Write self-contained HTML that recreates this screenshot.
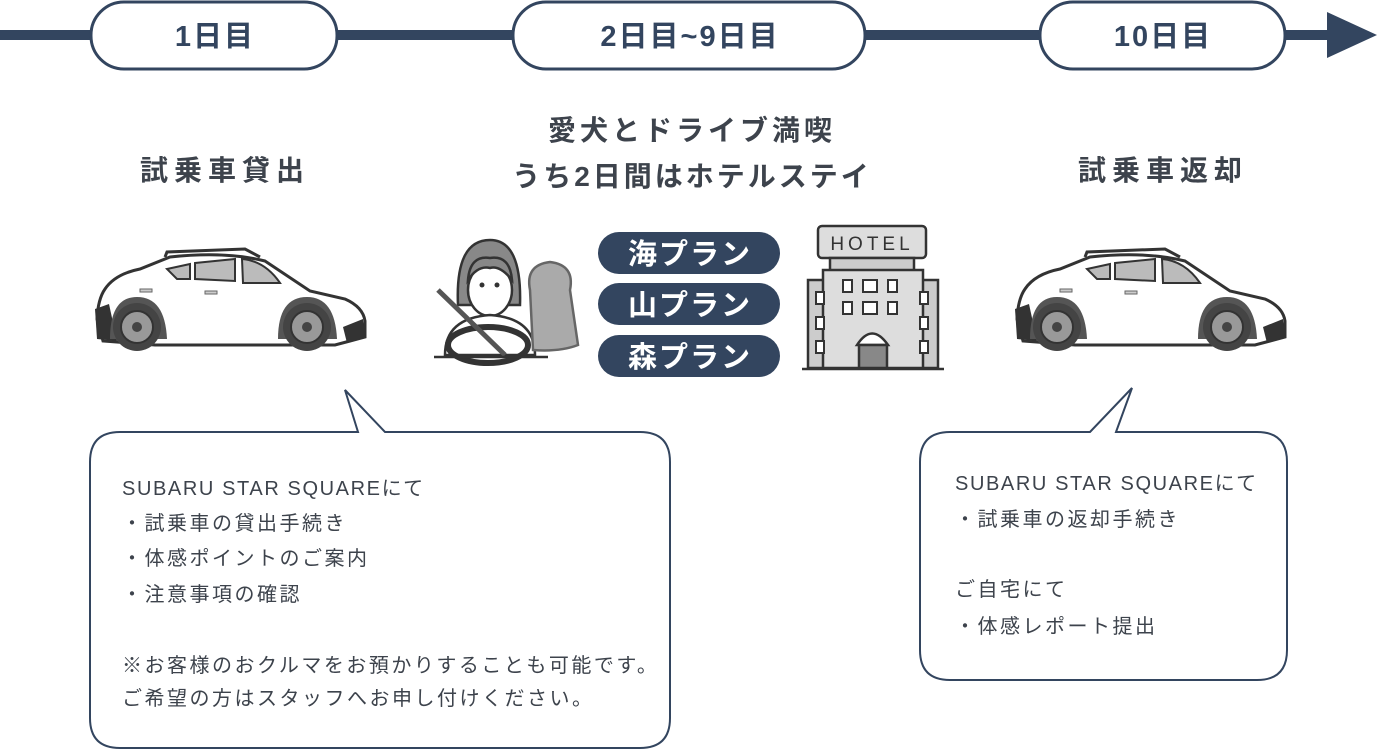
<!DOCTYPE html>
<html><head><meta charset="utf-8"><style>
html,body{margin:0;padding:0;background:#fff;}
svg{display:block;}
text{font-family:"Liberation Sans","Noto Sans CJK JP",sans-serif;}
</style></head><body>
<svg width="1377" height="749" viewBox="0 0 1377 749" xmlns="http://www.w3.org/2000/svg">
<defs>
<g id="car">
 <path d="M10,40 Q20,25 45,20 L75,8 Q130,2 170,12 L215,42 L250,50 Q268,58 270,72 L270,88 L255,92 L240,96 L60,96 L8,92 L2,70 Q3,50 10,40 Z" fill="#fff" stroke="#333" stroke-width="3"/>
 <path d="M70,8 L72,3 L150,0 L165,8" fill="none" stroke="#333" stroke-width="3"/>
 <path d="M72,20 L95,15 L95,30 L82,30 Z" fill="#bbb" stroke="#333" stroke-width="2"/>
 <path d="M100,14 L140,10 L140,32 L100,30 Z" fill="#bbb" stroke="#333" stroke-width="2"/>
 <path d="M147,10 Q170,12 185,34 L148,34 Z" fill="#bbb" stroke="#333" stroke-width="2"/>
 <path d="M0,60 L14,55 L22,92 L2,90 Z" fill="#333"/>
 <path d="M248,78 L268,70 L270,88 L252,94 Z" fill="#333"/>
 <path d="M15,90 Q15,48 42,48 Q70,48 72,90 Z" fill="#555"/>
 <path d="M183,90 Q183,48 212,48 Q240,48 242,90 Z" fill="#555"/>
 <circle cx="42" cy="78" r="24" fill="#444"/><circle cx="42" cy="78" r="16" fill="#999" stroke="#333" stroke-width="2"/><circle cx="42" cy="78" r="5" fill="#444"/>
 <circle cx="212" cy="78" r="24" fill="#444"/><circle cx="212" cy="78" r="16" fill="#999" stroke="#333" stroke-width="2"/><circle cx="212" cy="78" r="5" fill="#444"/>
 <rect x="45" y="40" width="12" height="3" fill="#ccc" stroke="#666"/>
 <rect x="110" y="42" width="12" height="3" fill="#ccc" stroke="#666"/>
</g>
</defs>
<rect x="0" y="30" width="1335" height="10" fill="#33455f"/>
<polygon points="1327,12 1377,35 1327,58" fill="#33455f"/>
<g fill="#fff" stroke="#33455f" stroke-width="3">
<rect x="91" y="2" width="246" height="67" rx="33"/>
<rect x="513" y="2" width="352" height="67" rx="33"/>
<rect x="1040" y="2" width="245" height="67" rx="33"/>
</g>
<g fill="#33455f" font-size="29" font-weight="bold" text-anchor="middle" letter-spacing="2">
<text x="215" y="46">1日目</text>
<text x="690" y="46">2日目~9日目</text>
<text x="1163" y="46">10日目</text>
</g>
<g fill="#3d434c" font-size="28" font-weight="bold" text-anchor="middle">
<text x="225" y="180" letter-spacing="6">試乗車貸出</text>
<text x="692" y="140" letter-spacing="4">愛犬とドライブ満喫</text>
<text x="692" y="186" letter-spacing="3">うち2日間はホテルステイ</text>
<text x="1163" y="180" letter-spacing="6">試乗車返却</text>
</g>
<use href="#car" x="95" y="249"/>
<use href="#car" x="1015" y="249"/>
<g stroke="#333" stroke-width="2.5">
<path d="M458,305 Q455,240 490,240 Q522,240 520,305 Z" fill="#888"/>
<ellipse cx="490" cy="290" rx="22" ry="26" fill="#fff"/>
<path d="M468,280 Q470,255 490,258 Q510,255 512,280 Q500,265 490,268 Q478,265 468,280Z" fill="#888"/>
<path d="M445,355 Q445,318 490,315 Q535,318 535,355 Z" fill="#fff"/>
<ellipse cx="488" cy="345" rx="40" ry="18" fill="none" stroke-width="6"/>
<line x1="438" y1="290" x2="505" y2="355" stroke="#555" stroke-width="5"/>
<line x1="434" y1="357" x2="548" y2="357"/>
<path d="M533,350 L530,290 Q525,265 550,262 Q575,265 570,290 L578,345 Q560,352 533,350Z" fill="#aaa" stroke="#666"/>
</g>
<circle cx="482" cy="285" r="2.5" fill="#333"/><circle cx="497" cy="285" r="2.5" fill="#333"/>
<g fill="#33455f">
<rect x="598" y="232" width="182" height="42" rx="21"/>
<rect x="598" y="283" width="182" height="42" rx="21"/>
<rect x="598" y="335" width="182" height="42" rx="21"/>
</g>
<g fill="#fff" font-size="29" font-weight="bold" text-anchor="middle" letter-spacing="2">
<text x="690" y="264">海プラン</text>
<text x="690" y="315">山プラン</text>
<text x="690" y="367">森プラン</text>
</g>
<g stroke="#333" stroke-width="2.5" fill="#ccc">
<rect x="818" y="226" width="108" height="32" rx="4" fill="#ddd"/>
<rect x="830" y="258" width="84" height="20"/>
<rect x="808" y="280" width="130" height="88"/>
<rect x="823" y="270" width="100" height="98" fill="#ddd"/>
<path d="M857,345 Q872,322 888,345 Z" fill="#fff"/>
<rect x="859" y="345" width="28" height="23" fill="#888"/>
</g>
<g fill="#fff" stroke="#333" stroke-width="2">
<rect x="843" y="280" width="9" height="12"/><rect x="863" y="280" width="14" height="12"/><rect x="888" y="280" width="9" height="12"/>
<rect x="843" y="302" width="9" height="12"/><rect x="863" y="302" width="14" height="12"/><rect x="888" y="302" width="9" height="12"/>
<rect x="816" y="292" width="8" height="12"/><rect x="816" y="317" width="8" height="12"/><rect x="816" y="341" width="8" height="12"/>
<rect x="920" y="292" width="8" height="12"/><rect x="920" y="317" width="8" height="12"/><rect x="920" y="341" width="8" height="12"/>
</g>
<line x1="802" y1="369" x2="944" y2="369" stroke="#333" stroke-width="2.5"/>
<text x="872" y="250" font-size="19" fill="#333" text-anchor="middle" letter-spacing="4">HOTEL</text>
<path d="M120,432 L358,432 L345,390 L385,432 L640,432 Q670,432 670,462 L670,718 Q670,748 640,748 L120,748 Q90,748 90,718 L90,462 Q90,432 120,432 Z" fill="#fff" stroke="#33455f" stroke-width="2"/>
<path d="M950,432 L1090,432 L1132,388 L1116,432 L1257,432 Q1287,432 1287,462 L1287,650 Q1287,680 1257,680 L950,680 Q920,680 920,650 L920,462 Q920,432 950,432 Z" fill="#fff" stroke="#33455f" stroke-width="2"/>
<g fill="#3d434c" font-size="20">
<text x="122" y="495" letter-spacing="1.6">SUBARU STAR SQUAREにて</text>
<g letter-spacing="2.5">
<text x="122" y="530">・試乗車の貸出手続き</text>
<text x="122" y="565">・体感ポイントのご案内</text>
<text x="122" y="601">・注意事項の確認</text>
<text x="122" y="672">※お客様のおクルマをお預かりすることも可能です。</text>
<text x="122" y="705">ご希望の方はスタッフへお申し付けください。</text>
</g>
<text x="955" y="490" letter-spacing="1.6">SUBARU STAR SQUAREにて</text>
<g letter-spacing="2.5">
<text x="955" y="526">・試乗車の返却手続き</text>
<text x="955" y="596">ご自宅にて</text>
<text x="955" y="633">・体感レポート提出</text>
</g>
</g>
</svg>
</body></html>
